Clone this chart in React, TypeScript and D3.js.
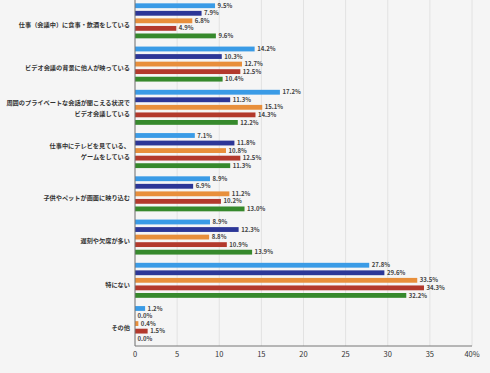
import React from 'react';
import * as d3 from 'd3';

// categories (multi-line labels split on \n)
const categories = [
  '仕事（会議中）に食事・飲酒をしている',
  'ビデオ会議の背景に他人が映っている',
  '周囲のプライベートな会話が聞こえる状況で\nビデオ会議している',
  '仕事中にテレビを見ている、\nゲームをしている',
  '子供やペットが画面に映り込む',
  '遅刻や欠席が多い',
  '特にない',
  'その他',
];

const seriesA = [9.5, 14.2, 17.2, 7.1, 8.9, 8.9, 27.8, 1.2];
const seriesB = [7.9, 10.3, 11.3, 11.8, 6.9, 12.3, 29.6, 0.0];
const seriesC = [6.8, 12.7, 15.1, 10.8, 11.2, 8.8, 33.5, 0.4];
const seriesD = [4.9, 12.5, 14.3, 12.5, 10.2, 10.9, 34.3, 1.5];
const seriesE = [9.6, 10.4, 12.2, 11.3, 13.0, 13.9, 32.2, 0.0];

const colors = ['#3a9be6', '#2c3697', '#e88f3b', '#b3392c', '#36892c'];
const xTicks = [0, 5, 10, 15, 20, 25, 30, 35, 40];

const W = 490;
const H = 373;
const margin = { left: 135, right: 18, top: 0, bottom: 27 };

const App: React.FC = () => {
  const series = [seriesA, seriesB, seriesC, seriesD, seriesE];
  const x = d3.scaleLinear().domain([0, 40]).range([margin.left, W - margin.right]);
  const y = d3.scaleBand<number>()
    .domain(d3.range(categories.length))
    .range([margin.top, H - margin.bottom]);
  const inner = d3.scaleBand<number>()
    .domain(d3.range(series.length))
    .range([0, 35])
    .paddingInner(0.36);
  const offset = (y.bandwidth() - 35) / 2 - 0.8;
  const font = "'Noto Sans CJK JP', 'Noto Sans', sans-serif";

  return (
    <svg width={W} height={H} style={{ position: 'absolute', left: 0, top: 0, background: '#f5f5f5' }} fontFamily={font}>
      <rect width={W} height={H} fill="#f5f5f5" />
      {xTicks.map(t => (
        <line key={'g' + t} x1={x(t)} x2={x(t)} y1={margin.top} y2={H - margin.bottom} stroke="#e2e2e2" strokeWidth={1} />
      ))}
      {categories.map((c, i) =>
        series.map((s, j) => {
          const v = s[i];
          const by = (y(i) as number) + offset + (inner(j) as number);
          return (
            <g key={`${i}-${j}`}>
              <rect x={x(0)} y={by} width={x(v) - x(0)} height={inner.bandwidth()} fill={colors[j]} />
              <text x={x(v) + 2.5} y={by + inner.bandwidth() / 2} dy="0.35em" fontSize={6} fontWeight={700} fill="#444">
                {v.toFixed(1) + '%'}
              </text>
            </g>
          );
        })
      )}
      {categories.map((c, i) => {
        const lines = c.split('\n');
        const mid = (y(i) as number) + y.bandwidth() / 2;
        const gap = 10.8;
        const first = lines.length === 1 ? mid + 3.3 : mid - gap / 2;
        return (
          <text key={'c' + i} textAnchor="end" fontSize={6.2} fontWeight={700} fill="#333">
            {lines.map((l, k) => (
              <tspan key={k} x={margin.left - 5} y={first + k * gap} dy="0.35em">
                {l}
              </tspan>
            ))}
          </text>
        );
      })}
      <line x1={x(0)} x2={x(0)} y1={margin.top} y2={H - margin.bottom} stroke="#777" strokeWidth={1} />
      <line x1={x(0)} x2={x(40)} y1={H - margin.bottom} y2={H - margin.bottom} stroke="#777" strokeWidth={1} />
      {xTicks.map(t => (
        <text key={'t' + t} x={x(t)} y={H - margin.bottom + 11} textAnchor="middle" fontSize={7.5} fill="#333">
          {t === 40 ? '40%' : String(t)}
        </text>
      ))}
    </svg>
  );
};

export default App;
